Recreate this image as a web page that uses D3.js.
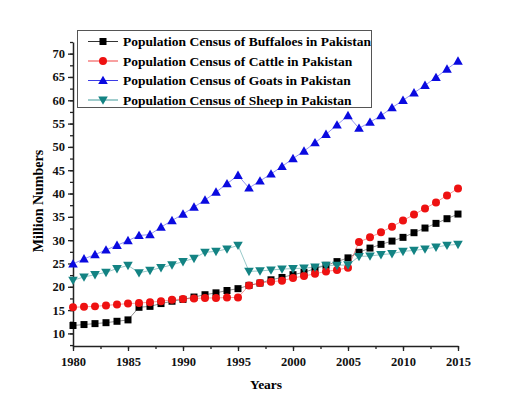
<!DOCTYPE html>
<html>
<head>
<meta charset="utf-8">
<script src="https://cdn.jsdelivr.net/npm/d3@7"></script>
<style>
  body { margin: 0; background: #fff; }
  svg text { font-family: "Liberation Serif", "Times New Roman", serif; font-weight: bold; }
</style>
</head>
<body>
<svg id="chart" width="524" height="397"></svg>
<script>
const years = d3.range(1980, 2016);

const buffaloes = [11.7, 11.9, 12.1, 12.3, 12.6, 12.9, 15.6, 15.8, 16.4, 16.9,
  17.3, 17.8, 18.3, 18.7, 19.2, 19.6, 20.3, 20.8, 21.5, 22.0,
  22.6, 23.1, 23.9, 24.6, 25.4, 26.2, 27.4, 28.3, 29.1, 29.8,
  30.6, 31.6, 32.6, 33.6, 34.6, 35.6];
const cattle = [15.6, 15.7, 15.8, 16.0, 16.2, 16.4, 16.5, 16.7, 16.9, 17.2,
  17.4, 17.5, 17.6, 17.6, 17.7, 17.7, 20.3, 20.8, 21.1, 21.3,
  21.9, 22.3, 22.8, 23.3, 23.6, 24.1, 29.6, 30.6, 31.7, 32.9,
  34.2, 35.5, 36.8, 38.1, 39.6, 41.1];
const goats = [24.9, 26.0, 26.9, 27.9, 28.9, 29.9, 31.0, 31.2, 32.8, 34.2,
  35.6, 37.1, 38.6, 40.3, 42.1, 43.9, 41.2, 42.7, 44.2, 45.8,
  47.5, 49.1, 50.9, 52.7, 54.7, 56.7, 54.0, 55.3, 56.7, 58.4,
  60.0, 61.6, 63.2, 64.9, 66.7, 68.4];
const sheep = [21.4, 22.1, 22.6, 23.1, 23.9, 24.6, 23.0, 23.5, 24.1, 24.7,
  25.4, 26.1, 27.4, 27.6, 28.1, 28.9, 23.3, 23.4, 23.6, 23.8,
  23.9, 24.0, 24.2, 24.6, 24.6, 24.7, 26.5, 26.6, 26.9, 27.1,
  27.6, 27.8, 28.1, 28.5, 28.9, 29.1];

const seriesNames = [
  "Population Census of Buffaloes in Pakistan",
  "Population Census of Cattle in Pakistan",
  "Population Census of Goats in Pakistan",
  "Population Census of Sheep in Pakistan"
];
const seriesValues = [buffaloes, cattle, goats, sheep];
const seriesColors = ["#000000", "#ee1111", "#0a0ae0", "#138383"];
const seriesShapes = ["square", "circle", "up", "down"];

const xTicks = [1980, 1985, 1990, 1995, 2000, 2005, 2010, 2015];
const yTicks = [10, 15, 20, 25, 30, 35, 40, 45, 50, 55, 60, 65, 70];

const svg = d3.select("#chart");

const x = d3.scaleLinear().domain([1980, 2015]).range([73, 458]);
const y = d3.scaleLinear().domain([7.3, 72.5]).range([346, 42]);

// minor ticks first so the major ones draw on top
svg.append("g")
  .attr("transform", "translate(0,346)")
  .call(d3.axisBottom(x).tickValues(d3.range(1980, 2015.1, 2.5)).tickSize(3).tickFormat(""))
  .call(g => g.select(".domain").remove());
svg.append("g")
  .attr("transform", "translate(73,0)")
  .call(d3.axisLeft(y).tickValues(d3.range(7.5, 72.6, 2.5)).tickSize(3).tickFormat(""))
  .call(g => g.select(".domain").remove());

const xAxis = svg.append("g")
  .attr("transform", "translate(0,346)")
  .call(d3.axisBottom(x).tickValues(xTicks).tickSize(5).tickPadding(6).tickSizeOuter(0).tickFormat(d3.format("d")));
const yAxis = svg.append("g")
  .attr("transform", "translate(73,0)")
  .call(d3.axisLeft(y).tickValues(yTicks).tickSize(5).tickPadding(3).tickSizeOuter(0));

svg.selectAll(".tick line").attr("stroke", "#222").attr("stroke-width", 1.3);
svg.selectAll(".domain").attr("stroke", "#222").attr("stroke-width", 1.5);
svg.selectAll(".tick text")
  .attr("font-family", "Liberation Serif")
  .attr("font-weight", "bold")
  .attr("font-size", 12.5)
  .attr("fill", "#111");

svg.append("text")
  .attr("x", 266).attr("y", 389)
  .attr("text-anchor", "middle")
  .attr("font-size", 13.5)
  .text("Years");

svg.append("text")
  .attr("transform", "translate(43,201) rotate(-90)")
  .attr("text-anchor", "middle")
  .attr("font-size", 14)
  .text("Million Numbers");

function markerPath(shape) {
  if (shape === "square") return "M-3.5,-3.5h7v7h-7z";
  if (shape === "circle") return d3.symbol(d3.symbolCircle, 50)();
  if (shape === "up") return "M0,-4.8L4.8,3.6L-4.8,3.6Z";
  return "M0,4.8L4.8,-3.6L-4.8,-3.6Z";
}

const line = d3.line()
  .x((d, i) => x(years[i]))
  .y(d => y(d));

seriesValues.forEach((vals, k) => {
  const g = svg.append("g");
  g.append("path")
    .datum(vals)
    .attr("d", line)
    .attr("fill", "none")
    .attr("stroke", seriesColors[k])
    .attr("stroke-opacity", 0.55)
    .attr("stroke-width", 0.8);
  g.selectAll("path.mark")
    .data(vals)
    .join("path")
    .attr("class", "mark")
    .attr("transform", (d, i) => `translate(${x(years[i])},${y(d)})`)
    .attr("d", markerPath(seriesShapes[k]))
    .attr("fill", seriesColors[k]);
});

// legend
const legend = svg.append("g");
legend.append("rect")
  .attr("x", 77.5).attr("y", 30.5)
  .attr("width", 294).attr("height", 77)
  .attr("fill", "#fff")
  .attr("stroke", "#555")
  .attr("stroke-width", 1);

const rows = legend.selectAll("g.row")
  .data(seriesNames)
  .join("g")
  .attr("class", "row")
  .attr("transform", (d, i) => `translate(0,${41.5 + i * 19.5})`);
rows.append("line")
  .attr("x1", 88).attr("x2", 118)
  .attr("stroke", (d, i) => seriesColors[i])
  .attr("stroke-width", 1)
  .attr("stroke-opacity", 0.8);
rows.append("path")
  .attr("transform", "translate(103,0)")
  .attr("d", (d, i) => markerPath(seriesShapes[i]))
  .attr("fill", (d, i) => seriesColors[i]);
rows.append("text")
  .attr("x", 123).attr("y", 4.5)
  .attr("font-size", 13.5)
  .text(d => d);
</script>
</body>
</html>
